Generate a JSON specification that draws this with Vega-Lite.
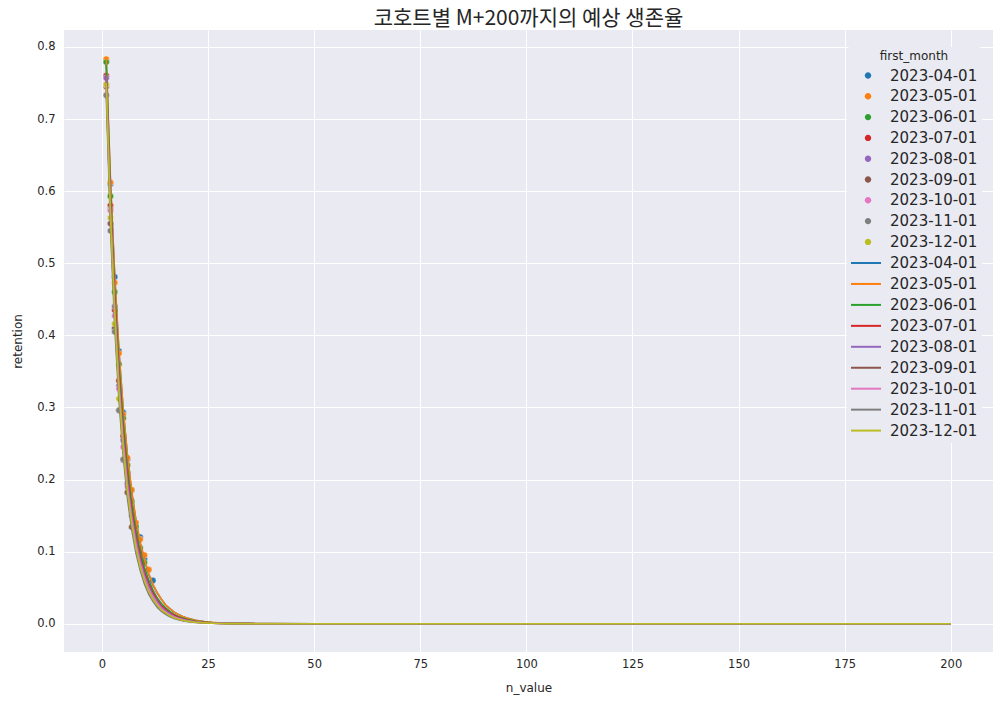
{
"$schema":"https://vega.github.io/schema/vega-lite/v6.json",
"width":929,"height":622,
"autosize":{"type":"none"},
"padding":{"left":64,"top":30,"right":10,"bottom":52},
"background":"white",
"title":{"text":"코호트별 M+200까지의 예상 생존율","font":"Noto Sans CJK KR","fontSize":21,"fontWeight":"normal","color":"#262626","anchor":"middle","offset":1},
"datasets":{
"pts":[
{"first_month":"2023-04-01","n_value":1,"retention":0.780},{"first_month":"2023-04-01","n_value":2,"retention":0.610},{"first_month":"2023-04-01","n_value":3,"retention":0.481},{"first_month":"2023-04-01","n_value":4,"retention":0.378},{"first_month":"2023-04-01","n_value":5,"retention":0.293},{"first_month":"2023-04-01","n_value":6,"retention":0.228},{"first_month":"2023-04-01","n_value":7,"retention":0.185},{"first_month":"2023-04-01","n_value":8,"retention":0.140},{"first_month":"2023-04-01","n_value":9,"retention":0.120},{"first_month":"2023-04-01","n_value":10,"retention":0.090},{"first_month":"2023-04-01","n_value":11,"retention":0.075},{"first_month":"2023-04-01","n_value":12,"retention":0.060},
{"first_month":"2023-05-01","n_value":1,"retention":0.783},{"first_month":"2023-05-01","n_value":2,"retention":0.612},{"first_month":"2023-05-01","n_value":3,"retention":0.473},{"first_month":"2023-05-01","n_value":4,"retention":0.375},{"first_month":"2023-05-01","n_value":5,"retention":0.290},{"first_month":"2023-05-01","n_value":6,"retention":0.230},{"first_month":"2023-05-01","n_value":7,"retention":0.186},{"first_month":"2023-05-01","n_value":8,"retention":0.140},{"first_month":"2023-05-01","n_value":9,"retention":0.117},{"first_month":"2023-05-01","n_value":10,"retention":0.095},{"first_month":"2023-05-01","n_value":11,"retention":0.075},
{"first_month":"2023-06-01","n_value":1,"retention":0.779},{"first_month":"2023-06-01","n_value":2,"retention":0.593},{"first_month":"2023-06-01","n_value":3,"retention":0.460},{"first_month":"2023-06-01","n_value":4,"retention":0.360},{"first_month":"2023-06-01","n_value":5,"retention":0.285},{"first_month":"2023-06-01","n_value":6,"retention":0.220},{"first_month":"2023-06-01","n_value":7,"retention":0.170},{"first_month":"2023-06-01","n_value":8,"retention":0.135},{"first_month":"2023-06-01","n_value":9,"retention":0.105},{"first_month":"2023-06-01","n_value":10,"retention":0.085},
{"first_month":"2023-07-01","n_value":1,"retention":0.760},{"first_month":"2023-07-01","n_value":2,"retention":0.580},{"first_month":"2023-07-01","n_value":3,"retention":0.435},{"first_month":"2023-07-01","n_value":4,"retention":0.337},{"first_month":"2023-07-01","n_value":5,"retention":0.260},{"first_month":"2023-07-01","n_value":6,"retention":0.210},{"first_month":"2023-07-01","n_value":7,"retention":0.160},{"first_month":"2023-07-01","n_value":8,"retention":0.125},{"first_month":"2023-07-01","n_value":9,"retention":0.100},
{"first_month":"2023-08-01","n_value":1,"retention":0.757},{"first_month":"2023-08-01","n_value":2,"retention":0.575},{"first_month":"2023-08-01","n_value":3,"retention":0.440},{"first_month":"2023-08-01","n_value":4,"retention":0.330},{"first_month":"2023-08-01","n_value":5,"retention":0.255},{"first_month":"2023-08-01","n_value":6,"retention":0.195},{"first_month":"2023-08-01","n_value":7,"retention":0.150},{"first_month":"2023-08-01","n_value":8,"retention":0.120},
{"first_month":"2023-09-01","n_value":1,"retention":0.745},{"first_month":"2023-09-01","n_value":2,"retention":0.555},{"first_month":"2023-09-01","n_value":3,"retention":0.410},{"first_month":"2023-09-01","n_value":4,"retention":0.296},{"first_month":"2023-09-01","n_value":5,"retention":0.227},{"first_month":"2023-09-01","n_value":6,"retention":0.182},{"first_month":"2023-09-01","n_value":7,"retention":0.134},
{"first_month":"2023-10-01","n_value":1,"retention":0.748},{"first_month":"2023-10-01","n_value":2,"retention":0.573},{"first_month":"2023-10-01","n_value":3,"retention":0.427},{"first_month":"2023-10-01","n_value":4,"retention":0.326},{"first_month":"2023-10-01","n_value":5,"retention":0.245},{"first_month":"2023-10-01","n_value":6,"retention":0.190},
{"first_month":"2023-11-01","n_value":1,"retention":0.733},{"first_month":"2023-11-01","n_value":2,"retention":0.545},{"first_month":"2023-11-01","n_value":3,"retention":0.405},{"first_month":"2023-11-01","n_value":4,"retention":0.296},{"first_month":"2023-11-01","n_value":5,"retention":0.228},
{"first_month":"2023-12-01","n_value":1,"retention":0.748},{"first_month":"2023-12-01","n_value":2,"retention":0.563},{"first_month":"2023-12-01","n_value":3,"retention":0.416},{"first_month":"2023-12-01","n_value":4,"retention":0.312}
],
"fit":[
{"first_month":"2023-04-01","n_value":1,"retention":0.780},{"first_month":"2023-04-01","n_value":2,"retention":0.612},{"first_month":"2023-04-01","n_value":3,"retention":0.481},{"first_month":"2023-04-01","n_value":4,"retention":0.377},{"first_month":"2023-04-01","n_value":5,"retention":0.296},{"first_month":"2023-04-01","n_value":6,"retention":0.233},{"first_month":"2023-04-01","n_value":7,"retention":0.183},{"first_month":"2023-04-01","n_value":8,"retention":0.143},{"first_month":"2023-04-01","n_value":9,"retention":0.112},{"first_month":"2023-04-01","n_value":10,"retention":0.088},{"first_month":"2023-04-01","n_value":11,"retention":0.069},{"first_month":"2023-04-01","n_value":12,"retention":0.054},{"first_month":"2023-04-01","n_value":13,"retention":0.043},{"first_month":"2023-04-01","n_value":14,"retention":0.034},{"first_month":"2023-04-01","n_value":15,"retention":0.026},{"first_month":"2023-04-01","n_value":16,"retention":0.021},{"first_month":"2023-04-01","n_value":17,"retention":0.016},{"first_month":"2023-04-01","n_value":18,"retention":0.013},{"first_month":"2023-04-01","n_value":19,"retention":0.010},{"first_month":"2023-04-01","n_value":20,"retention":0.0079},{"first_month":"2023-04-01","n_value":22,"retention":0.0048},{"first_month":"2023-04-01","n_value":24,"retention":0.0030},{"first_month":"2023-04-01","n_value":26,"retention":0.0018},{"first_month":"2023-04-01","n_value":28,"retention":0.0011},{"first_month":"2023-04-01","n_value":30,"retention":0.0007},{"first_month":"2023-04-01","n_value":35,"retention":0.0002},{"first_month":"2023-04-01","n_value":40,"retention":0.0001},{"first_month":"2023-04-01","n_value":50,"retention":0},{"first_month":"2023-04-01","n_value":200,"retention":0},
{"first_month":"2023-05-01","n_value":1,"retention":0.785},{"first_month":"2023-05-01","n_value":2,"retention":0.616},{"first_month":"2023-05-01","n_value":3,"retention":0.484},{"first_month":"2023-05-01","n_value":4,"retention":0.380},{"first_month":"2023-05-01","n_value":5,"retention":0.298},{"first_month":"2023-05-01","n_value":6,"retention":0.234},{"first_month":"2023-05-01","n_value":7,"retention":0.184},{"first_month":"2023-05-01","n_value":8,"retention":0.144},{"first_month":"2023-05-01","n_value":9,"retention":0.113},{"first_month":"2023-05-01","n_value":10,"retention":0.089},{"first_month":"2023-05-01","n_value":11,"retention":0.070},{"first_month":"2023-05-01","n_value":12,"retention":0.055},{"first_month":"2023-05-01","n_value":13,"retention":0.043},{"first_month":"2023-05-01","n_value":14,"retention":0.034},{"first_month":"2023-05-01","n_value":15,"retention":0.026},{"first_month":"2023-05-01","n_value":16,"retention":0.021},{"first_month":"2023-05-01","n_value":17,"retention":0.016},{"first_month":"2023-05-01","n_value":18,"retention":0.013},{"first_month":"2023-05-01","n_value":19,"retention":0.010},{"first_month":"2023-05-01","n_value":20,"retention":0.008},{"first_month":"2023-05-01","n_value":22,"retention":0.0049},{"first_month":"2023-05-01","n_value":24,"retention":0.0030},{"first_month":"2023-05-01","n_value":26,"retention":0.0019},{"first_month":"2023-05-01","n_value":28,"retention":0.0011},{"first_month":"2023-05-01","n_value":30,"retention":0.0007},{"first_month":"2023-05-01","n_value":35,"retention":0.0002},{"first_month":"2023-05-01","n_value":40,"retention":0.0001},{"first_month":"2023-05-01","n_value":50,"retention":0},{"first_month":"2023-05-01","n_value":200,"retention":0},
{"first_month":"2023-06-01","n_value":1,"retention":0.775},{"first_month":"2023-06-01","n_value":2,"retention":0.601},{"first_month":"2023-06-01","n_value":3,"retention":0.465},{"first_month":"2023-06-01","n_value":4,"retention":0.361},{"first_month":"2023-06-01","n_value":5,"retention":0.280},{"first_month":"2023-06-01","n_value":6,"retention":0.217},{"first_month":"2023-06-01","n_value":7,"retention":0.168},{"first_month":"2023-06-01","n_value":8,"retention":0.130},{"first_month":"2023-06-01","n_value":9,"retention":0.101},{"first_month":"2023-06-01","n_value":10,"retention":0.078},{"first_month":"2023-06-01","n_value":11,"retention":0.061},{"first_month":"2023-06-01","n_value":12,"retention":0.047},{"first_month":"2023-06-01","n_value":13,"retention":0.036},{"first_month":"2023-06-01","n_value":14,"retention":0.028},{"first_month":"2023-06-01","n_value":15,"retention":0.022},{"first_month":"2023-06-01","n_value":16,"retention":0.017},{"first_month":"2023-06-01","n_value":17,"retention":0.013},{"first_month":"2023-06-01","n_value":18,"retention":0.010},{"first_month":"2023-06-01","n_value":19,"retention":0.0079},{"first_month":"2023-06-01","n_value":20,"retention":0.0061},{"first_month":"2023-06-01","n_value":22,"retention":0.0037},{"first_month":"2023-06-01","n_value":24,"retention":0.0022},{"first_month":"2023-06-01","n_value":26,"retention":0.0013},{"first_month":"2023-06-01","n_value":28,"retention":0.0008},{"first_month":"2023-06-01","n_value":30,"retention":0.0005},{"first_month":"2023-06-01","n_value":35,"retention":0.0001},{"first_month":"2023-06-01","n_value":40,"retention":0},{"first_month":"2023-06-01","n_value":50,"retention":0},{"first_month":"2023-06-01","n_value":200,"retention":0},
{"first_month":"2023-07-01","n_value":1,"retention":0.760},{"first_month":"2023-07-01","n_value":2,"retention":0.585},{"first_month":"2023-07-01","n_value":3,"retention":0.451},{"first_month":"2023-07-01","n_value":4,"retention":0.347},{"first_month":"2023-07-01","n_value":5,"retention":0.267},{"first_month":"2023-07-01","n_value":6,"retention":0.206},{"first_month":"2023-07-01","n_value":7,"retention":0.158},{"first_month":"2023-07-01","n_value":8,"retention":0.122},{"first_month":"2023-07-01","n_value":9,"retention":0.094},{"first_month":"2023-07-01","n_value":10,"retention":0.072},{"first_month":"2023-07-01","n_value":11,"retention":0.056},{"first_month":"2023-07-01","n_value":12,"retention":0.043},{"first_month":"2023-07-01","n_value":13,"retention":0.033},{"first_month":"2023-07-01","n_value":14,"retention":0.025},{"first_month":"2023-07-01","n_value":15,"retention":0.020},{"first_month":"2023-07-01","n_value":16,"retention":0.015},{"first_month":"2023-07-01","n_value":17,"retention":0.012},{"first_month":"2023-07-01","n_value":18,"retention":0.009},{"first_month":"2023-07-01","n_value":19,"retention":0.0069},{"first_month":"2023-07-01","n_value":20,"retention":0.0053},{"first_month":"2023-07-01","n_value":22,"retention":0.0032},{"first_month":"2023-07-01","n_value":24,"retention":0.0019},{"first_month":"2023-07-01","n_value":26,"retention":0.0011},{"first_month":"2023-07-01","n_value":28,"retention":0.0007},{"first_month":"2023-07-01","n_value":30,"retention":0.0004},{"first_month":"2023-07-01","n_value":35,"retention":0.0001},{"first_month":"2023-07-01","n_value":40,"retention":0},{"first_month":"2023-07-01","n_value":50,"retention":0},{"first_month":"2023-07-01","n_value":200,"retention":0},
{"first_month":"2023-08-01","n_value":1,"retention":0.760},{"first_month":"2023-08-01","n_value":2,"retention":0.581},{"first_month":"2023-08-01","n_value":3,"retention":0.445},{"first_month":"2023-08-01","n_value":4,"retention":0.340},{"first_month":"2023-08-01","n_value":5,"retention":0.260},{"first_month":"2023-08-01","n_value":6,"retention":0.199},{"first_month":"2023-08-01","n_value":7,"retention":0.152},{"first_month":"2023-08-01","n_value":8,"retention":0.117},{"first_month":"2023-08-01","n_value":9,"retention":0.089},{"first_month":"2023-08-01","n_value":10,"retention":0.068},{"first_month":"2023-08-01","n_value":11,"retention":0.052},{"first_month":"2023-08-01","n_value":12,"retention":0.040},{"first_month":"2023-08-01","n_value":13,"retention":0.031},{"first_month":"2023-08-01","n_value":14,"retention":0.023},{"first_month":"2023-08-01","n_value":15,"retention":0.018},{"first_month":"2023-08-01","n_value":16,"retention":0.014},{"first_month":"2023-08-01","n_value":17,"retention":0.010},{"first_month":"2023-08-01","n_value":18,"retention":0.008},{"first_month":"2023-08-01","n_value":19,"retention":0.0061},{"first_month":"2023-08-01","n_value":20,"retention":0.0047},{"first_month":"2023-08-01","n_value":22,"retention":0.0027},{"first_month":"2023-08-01","n_value":24,"retention":0.0016},{"first_month":"2023-08-01","n_value":26,"retention":0.0009},{"first_month":"2023-08-01","n_value":28,"retention":0.0005},{"first_month":"2023-08-01","n_value":30,"retention":0.0003},{"first_month":"2023-08-01","n_value":35,"retention":0.0001},{"first_month":"2023-08-01","n_value":40,"retention":0},{"first_month":"2023-08-01","n_value":50,"retention":0},{"first_month":"2023-08-01","n_value":200,"retention":0},
{"first_month":"2023-09-01","n_value":1,"retention":0.745},{"first_month":"2023-09-01","n_value":2,"retention":0.562},{"first_month":"2023-09-01","n_value":3,"retention":0.425},{"first_month":"2023-09-01","n_value":4,"retention":0.321},{"first_month":"2023-09-01","n_value":5,"retention":0.242},{"first_month":"2023-09-01","n_value":6,"retention":0.183},{"first_month":"2023-09-01","n_value":7,"retention":0.138},{"first_month":"2023-09-01","n_value":8,"retention":0.104},{"first_month":"2023-09-01","n_value":9,"retention":0.079},{"first_month":"2023-09-01","n_value":10,"retention":0.059},{"first_month":"2023-09-01","n_value":11,"retention":0.045},{"first_month":"2023-09-01","n_value":12,"retention":0.034},{"first_month":"2023-09-01","n_value":13,"retention":0.026},{"first_month":"2023-09-01","n_value":14,"retention":0.019},{"first_month":"2023-09-01","n_value":15,"retention":0.015},{"first_month":"2023-09-01","n_value":16,"retention":0.011},{"first_month":"2023-09-01","n_value":17,"retention":0.0083},{"first_month":"2023-09-01","n_value":18,"retention":0.0063},{"first_month":"2023-09-01","n_value":19,"retention":0.0047},{"first_month":"2023-09-01","n_value":20,"retention":0.0036},{"first_month":"2023-09-01","n_value":22,"retention":0.0020},{"first_month":"2023-09-01","n_value":24,"retention":0.0012},{"first_month":"2023-09-01","n_value":26,"retention":0.0007},{"first_month":"2023-09-01","n_value":28,"retention":0.0004},{"first_month":"2023-09-01","n_value":30,"retention":0.0002},{"first_month":"2023-09-01","n_value":35,"retention":0.0001},{"first_month":"2023-09-01","n_value":40,"retention":0},{"first_month":"2023-09-01","n_value":50,"retention":0},{"first_month":"2023-09-01","n_value":200,"retention":0},
{"first_month":"2023-10-01","n_value":1,"retention":0.750},{"first_month":"2023-10-01","n_value":2,"retention":0.570},{"first_month":"2023-10-01","n_value":3,"retention":0.433},{"first_month":"2023-10-01","n_value":4,"retention":0.329},{"first_month":"2023-10-01","n_value":5,"retention":0.250},{"first_month":"2023-10-01","n_value":6,"retention":0.190},{"first_month":"2023-10-01","n_value":7,"retention":0.145},{"first_month":"2023-10-01","n_value":8,"retention":0.110},{"first_month":"2023-10-01","n_value":9,"retention":0.083},{"first_month":"2023-10-01","n_value":10,"retention":0.063},{"first_month":"2023-10-01","n_value":11,"retention":0.048},{"first_month":"2023-10-01","n_value":12,"retention":0.037},{"first_month":"2023-10-01","n_value":13,"retention":0.028},{"first_month":"2023-10-01","n_value":14,"retention":0.021},{"first_month":"2023-10-01","n_value":15,"retention":0.016},{"first_month":"2023-10-01","n_value":16,"retention":0.012},{"first_month":"2023-10-01","n_value":17,"retention":0.0093},{"first_month":"2023-10-01","n_value":18,"retention":0.0071},{"first_month":"2023-10-01","n_value":19,"retention":0.0054},{"first_month":"2023-10-01","n_value":20,"retention":0.0041},{"first_month":"2023-10-01","n_value":22,"retention":0.0024},{"first_month":"2023-10-01","n_value":24,"retention":0.0014},{"first_month":"2023-10-01","n_value":26,"retention":0.0008},{"first_month":"2023-10-01","n_value":28,"retention":0.0005},{"first_month":"2023-10-01","n_value":30,"retention":0.0003},{"first_month":"2023-10-01","n_value":35,"retention":0.0001},{"first_month":"2023-10-01","n_value":40,"retention":0},{"first_month":"2023-10-01","n_value":50,"retention":0},{"first_month":"2023-10-01","n_value":200,"retention":0},
{"first_month":"2023-11-01","n_value":1,"retention":0.735},{"first_month":"2023-11-01","n_value":2,"retention":0.551},{"first_month":"2023-11-01","n_value":3,"retention":0.413},{"first_month":"2023-11-01","n_value":4,"retention":0.310},{"first_month":"2023-11-01","n_value":5,"retention":0.233},{"first_month":"2023-11-01","n_value":6,"retention":0.174},{"first_month":"2023-11-01","n_value":7,"retention":0.131},{"first_month":"2023-11-01","n_value":8,"retention":0.098},{"first_month":"2023-11-01","n_value":9,"retention":0.074},{"first_month":"2023-11-01","n_value":10,"retention":0.055},{"first_month":"2023-11-01","n_value":11,"retention":0.041},{"first_month":"2023-11-01","n_value":12,"retention":0.031},{"first_month":"2023-11-01","n_value":13,"retention":0.023},{"first_month":"2023-11-01","n_value":14,"retention":0.017},{"first_month":"2023-11-01","n_value":15,"retention":0.013},{"first_month":"2023-11-01","n_value":16,"retention":0.0098},{"first_month":"2023-11-01","n_value":17,"retention":0.0074},{"first_month":"2023-11-01","n_value":18,"retention":0.0055},{"first_month":"2023-11-01","n_value":19,"retention":0.0041},{"first_month":"2023-11-01","n_value":20,"retention":0.0031},{"first_month":"2023-11-01","n_value":22,"retention":0.0017},{"first_month":"2023-11-01","n_value":24,"retention":0.0010},{"first_month":"2023-11-01","n_value":26,"retention":0.0006},{"first_month":"2023-11-01","n_value":28,"retention":0.0003},{"first_month":"2023-11-01","n_value":30,"retention":0.0002},{"first_month":"2023-11-01","n_value":35,"retention":0},{"first_month":"2023-11-01","n_value":40,"retention":0},{"first_month":"2023-11-01","n_value":50,"retention":0},{"first_month":"2023-11-01","n_value":200,"retention":0},
{"first_month":"2023-12-01","n_value":1,"retention":0.750},{"first_month":"2023-12-01","n_value":2,"retention":0.566},{"first_month":"2023-12-01","n_value":3,"retention":0.428},{"first_month":"2023-12-01","n_value":4,"retention":0.323},{"first_month":"2023-12-01","n_value":5,"retention":0.244},{"first_month":"2023-12-01","n_value":6,"retention":0.184},{"first_month":"2023-12-01","n_value":7,"retention":0.139},{"first_month":"2023-12-01","n_value":8,"retention":0.105},{"first_month":"2023-12-01","n_value":9,"retention":0.079},{"first_month":"2023-12-01","n_value":10,"retention":0.060},{"first_month":"2023-12-01","n_value":11,"retention":0.045},{"first_month":"2023-12-01","n_value":12,"retention":0.034},{"first_month":"2023-12-01","n_value":13,"retention":0.026},{"first_month":"2023-12-01","n_value":14,"retention":0.019},{"first_month":"2023-12-01","n_value":15,"retention":0.015},{"first_month":"2023-12-01","n_value":16,"retention":0.011},{"first_month":"2023-12-01","n_value":17,"retention":0.0083},{"first_month":"2023-12-01","n_value":18,"retention":0.0063},{"first_month":"2023-12-01","n_value":19,"retention":0.0048},{"first_month":"2023-12-01","n_value":20,"retention":0.0036},{"first_month":"2023-12-01","n_value":22,"retention":0.0021},{"first_month":"2023-12-01","n_value":24,"retention":0.0012},{"first_month":"2023-12-01","n_value":26,"retention":0.0007},{"first_month":"2023-12-01","n_value":28,"retention":0.0004},{"first_month":"2023-12-01","n_value":30,"retention":0.0002},{"first_month":"2023-12-01","n_value":35,"retention":0.0001},{"first_month":"2023-12-01","n_value":40,"retention":0},{"first_month":"2023-12-01","n_value":50,"retention":0},{"first_month":"2023-12-01","n_value":200,"retention":0}
]
},
"encoding":{
"x":{"field":"n_value","type":"quantitative","title":"n_value","scale":{"domain":[-8.95,209.95],"nice":false,"zero":false},"axis":{"values":[0,25,50,75,100,125,150,175,200],"format":"d","labelPadding":6,"titlePadding":13}},
"y":{"field":"retention","type":"quantitative","title":"retention","scale":{"domain":[-0.0392,0.8235],"nice":false,"zero":false},"axis":{"values":[0,0.1,0.2,0.3,0.4,0.5,0.6,0.7,0.8],"format":".1f","labelPadding":9,"titlePadding":12}}
},
"layer":[
{"data":{"name":"pts"},"mark":{"type":"point","filled":true,"size":40,"opacity":1,"stroke":"white","strokeWidth":0.4},
 "encoding":{"color":{"field":"first_month","type":"nominal","scale":{"range":["#1f77b4","#ff7f0e","#2ca02c","#d62728","#9467bd","#8c564b","#e377c2","#7f7f7f","#bcbd22"]},
  "legend":{"title":"first_month","orient":"none","legendX":783,"legendY":17,"symbolType":"M-0.32,0A0.32,0.32,0,1,0,0.32,0A0.32,0.32,0,1,0,-0.32,0Z","symbolSize":400,"symbolStrokeWidth":0,"symbolOffset":7,"labelOffset":12,"rowPadding":2.8,"padding":4,"titlePadding":2.5,"fillColor":"#EAEAF2","titleAnchor":"middle"}}}},
{"data":{"name":"fit"},"mark":{"type":"line","strokeWidth":1.6},
 "encoding":{"stroke":{"field":"first_month","type":"nominal","scale":{"range":["#1f77b4","#ff7f0e","#2ca02c","#d62728","#9467bd","#8c564b","#e377c2","#7f7f7f","#bcbd22"]},
  "legend":{"title":null,"orient":"none","legendX":783,"legendY":218,"symbolType":"M-1.5,0H1.5","symbolSize":400,"symbolStrokeWidth":2,"symbolOffset":4,"labelOffset":13,"rowPadding":1.95,"padding":4,"fillColor":"#EAEAF2"}}}}
],
"resolve":{"scale":{"color":"independent","stroke":"independent"}},
"config":{
"view":{"fill":"#EAEAF2","stroke":null},
"axis":{"grid":true,"gridColor":"white","gridWidth":1,"domain":false,"ticks":false,"labelFont":"DejaVu Sans","labelFontSize":11.5,"labelColor":"#262626","titleFont":"DejaVu Sans","titleFontSize":12,"titleFontWeight":"normal","titleColor":"#262626"},
"legend":{"labelFont":"DejaVu Sans","labelFontSize":15,"labelColor":"#262626","titleFont":"DejaVu Sans","titleFontSize":12,"titleFontWeight":"normal","titleColor":"#262626","cornerRadius":3}
}
}
